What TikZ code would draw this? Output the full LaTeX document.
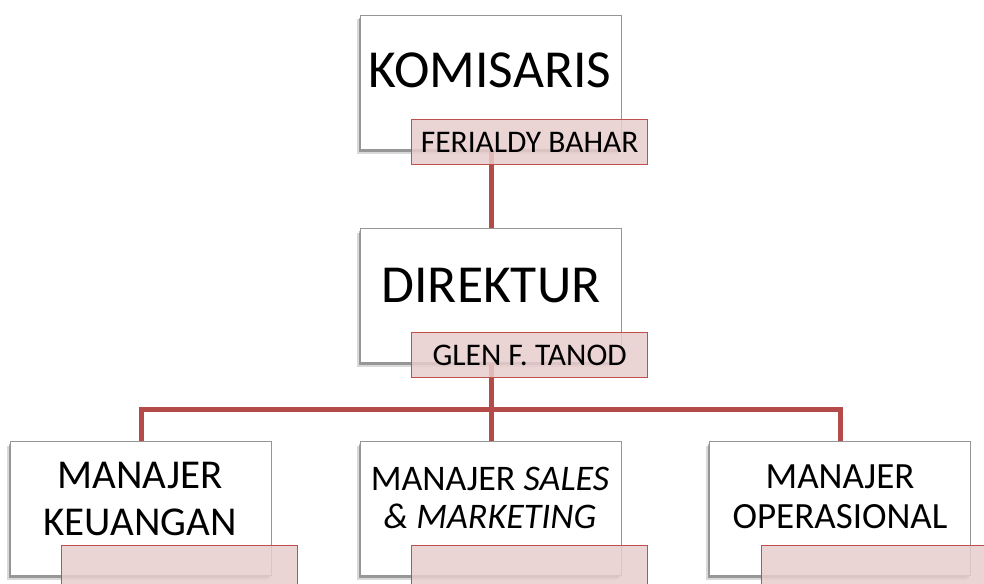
\documentclass[tikz,border=0pt]{standalone}
\usepackage{fontspec}
\setmainfont{Carlito}
\usetikzlibrary{shadows}
\definecolor{lineRed}{RGB}{180,75,72}
\definecolor{pinkFill}{RGB}{232,205,205}
\definecolor{pinkEdge}{RGB}{192,80,77}
\definecolor{boxEdge}{RGB}{150,150,150}
\tikzset{
  orgbox/.style={draw=boxEdge, line width=1pt, fill=white, rectangle, inner sep=0pt,
    anchor=north west, minimum width=261pt, minimum height=134pt,
    preaction={drop shadow={shadow xshift=-3.5pt, shadow yshift=-4pt, fill=black, opacity=0.15}},
    drop shadow={shadow xshift=-2pt, shadow yshift=-2.5pt, fill=black, opacity=0.3}},
  namebox/.style={draw=pinkEdge, line width=1.3pt, fill=pinkFill, fill opacity=0.85,
    text opacity=1, rectangle, inner sep=0pt, anchor=north west,
    minimum width=236pt, minimum height=45pt, font=\fontsize{31.5}{36}\selectfont},
  conn/.style={draw=lineRed, line width=5pt},
  bigtext/.style={anchor=base, font=\fontsize{53.5}{60}\selectfont},
  lefttext/.style={anchor=base, font=\fontsize{41}{48}\selectfont},
  midtext/.style={anchor=base, font=\fontsize{36}{42}\selectfont},
  righttext/.style={anchor=base, font=\fontsize{37}{44}\selectfont}
}
\begin{document}
\begin{tikzpicture}[x=1pt,y=-1pt]
\useasboundingbox (0,0) rectangle (984,583);
\clip (0,0) rectangle (984,583);
\fill[white] (0,0) rectangle (984,583);

% main boxes
\node[orgbox] (kombox) at (360,15) {};
\node[orgbox] (dirbox) at (360,228) {};
\node[orgbox] (m1box) at (10,441) {};
\node[orgbox] (m2box) at (360,441) {};
\node[orgbox] (m3box) at (709,441) {};

% connectors
\coordinate (bus) at (490,409);
\draw[conn] (kombox.south) -- (dirbox.north);
\draw[conn] (m1box.north) |- (bus) -| (m3box.north);
\draw[conn] (dirbox.south) -- (m2box.north);

% titles
\node[bigtext] (komtext) at (490,88) {KOMISARIS};
\node[bigtext] (dirtext) at (491,302) {DIREKTUR};
\node[lefttext] (m1a) at (140,488) {MANAJER};
\node[lefttext] (m1b) at (140,535) {KEUANGAN};
\node[midtext] (m2a) at (490,490) {MANAJER \textit{SALES}};
\node[midtext] (m2b) at (490,528) {\textit{\& MARKETING}};
\node[righttext] (m3a) at (840,488) {MANAJER};
\node[righttext] (m3b) at (840,528) {OPERASIONAL};

% name boxes
\node[namebox] (komname) at (411,119) {FERIALDY BAHAR};
\node[namebox] (dirname) at (411,332) {GLEN F. TANOD};
\node[namebox] (m1name) at (61,545) {};
\node[namebox] (m2name) at (411,545) {};
\node[namebox] (m3name) at (761,545) {};
\end{tikzpicture}
\end{document}
